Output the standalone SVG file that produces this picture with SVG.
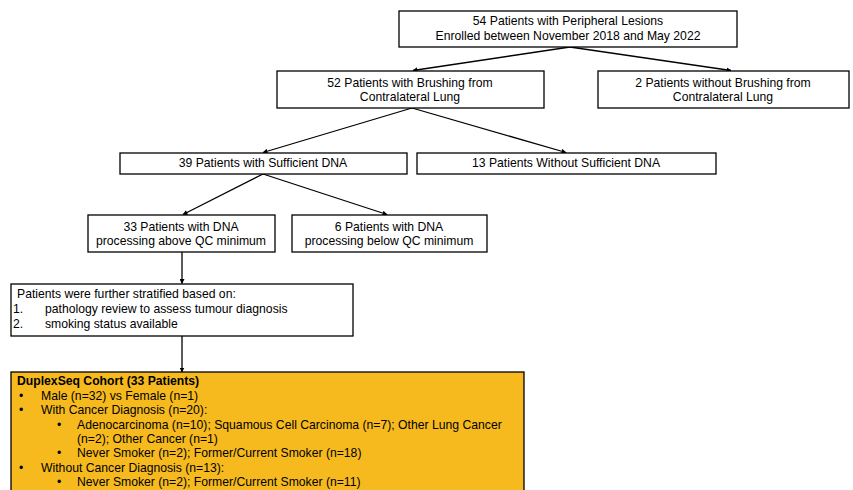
<svg xmlns="http://www.w3.org/2000/svg" width="853" height="490" viewBox="0 0 853 490">
<style>
.box{fill:#fff;stroke:#000;stroke-width:1.3}
.ob{fill:#F6BA1E;stroke:#000;stroke-width:1.3}
text{font-family:"Liberation Sans",Arial,sans-serif;font-size:12.2px;fill:#000}
.c{text-anchor:middle}
.b{font-weight:bold}
.ln{stroke:#000;stroke-width:1.3;fill:none;marker-end:url(#ah)}
</style>
<defs>
<marker id="ah" viewBox="0 0 10 10" refX="9" refY="5" markerWidth="5" markerHeight="5" orient="auto" markerUnits="userSpaceOnUse">
<path d="M0,0 L10,5 L0,10 z" fill="#000"/>
</marker>
</defs>
<g id="connectors">
<line class="ln" x1="570" y1="47" x2="413" y2="70.5"/>
<line class="ln" x1="570" y1="47" x2="731" y2="70.5"/>
<line class="ln" x1="412" y1="108" x2="263" y2="152.5"/>
<line class="ln" x1="412" y1="108" x2="566" y2="152.5"/>
<line class="ln" x1="263" y1="174" x2="183" y2="214.5"/>
<line class="ln" x1="263" y1="174" x2="387" y2="214.5"/>
<line class="ln" x1="182" y1="252" x2="182" y2="283.5"/>
<line class="ln" x1="182" y1="336" x2="182" y2="372"/>
</g>
<g id="n54">
<rect class="box" x="399" y="11" width="338" height="36"/>
<text class="c" x="568" y="25">54 Patients with Peripheral Lesions</text>
<text class="c" x="568" y="40">Enrolled between November 2018 and May 2022</text>
</g>
<g id="n52">
<rect class="box" x="277" y="71" width="267" height="37"/>
<text class="c" x="410" y="87">52 Patients with Brushing from</text>
<text class="c" x="410" y="101">Contralateral Lung</text>
</g>
<g id="n2">
<rect class="box" x="598" y="71" width="251" height="37"/>
<text class="c" x="723" y="87">2 Patients without Brushing from</text>
<text class="c" x="723" y="101">Contralateral Lung</text>
</g>
<g id="n39">
<rect class="box" x="120" y="153" width="287" height="21"/>
<text class="c" x="263" y="167">39 Patients with Sufficient DNA</text>
</g>
<g id="n13">
<rect class="box" x="417" y="153" width="299" height="21"/>
<text class="c" x="566" y="167">13 Patients Without Sufficient DNA</text>
</g>
<g id="n33">
<rect class="box" x="88" y="215" width="187" height="37"/>
<text class="c" x="181" y="231">33 Patients with DNA</text>
<text class="c" x="181" y="245">processing above QC minimum</text>
</g>
<g id="n6">
<rect class="box" x="292" y="215" width="195" height="37"/>
<text class="c" x="389" y="231">6 Patients with DNA</text>
<text class="c" x="389" y="245">processing below QC minimum</text>
</g>
<g id="strat">
<rect class="box" x="11" y="284" width="342" height="52"/>
<text x="17" y="298">Patients were further stratified based on:</text>
<text x="13" y="313">1.</text>
<text x="45" y="313">pathology review to assess tumour diagnosis</text>
<text x="13" y="328">2.</text>
<text x="45" y="328">smoking status available</text>
</g>
<g id="cohort">
<rect class="ob" x="11" y="372" width="513" height="130"/>
<text class="b" x="17" y="385">DuplexSeq Cohort (33 Patients)</text>
<text x="19" y="400">•</text>
<text x="41" y="400">Male (n=32) vs Female (n=1)</text>
<text x="19" y="414">•</text>
<text x="41" y="414">With Cancer Diagnosis (n=20):</text>
<text x="57" y="429">•</text>
<text x="77" y="429">Adenocarcinoma (n=10); Squamous Cell Carcinoma (n=7); Other Lung Cancer</text>
<text x="77" y="443">(n=2); Other Cancer (n=1)</text>
<text x="57" y="457">•</text>
<text x="77" y="457">Never Smoker (n=2); Former/Current Smoker (n=18)</text>
<text x="19" y="472">•</text>
<text x="41" y="472">Without Cancer Diagnosis (n=13):</text>
<text x="57" y="486">•</text>
<text x="77" y="486">Never Smoker (n=2); Former/Current Smoker (n=11)</text>
</g>
</svg>
